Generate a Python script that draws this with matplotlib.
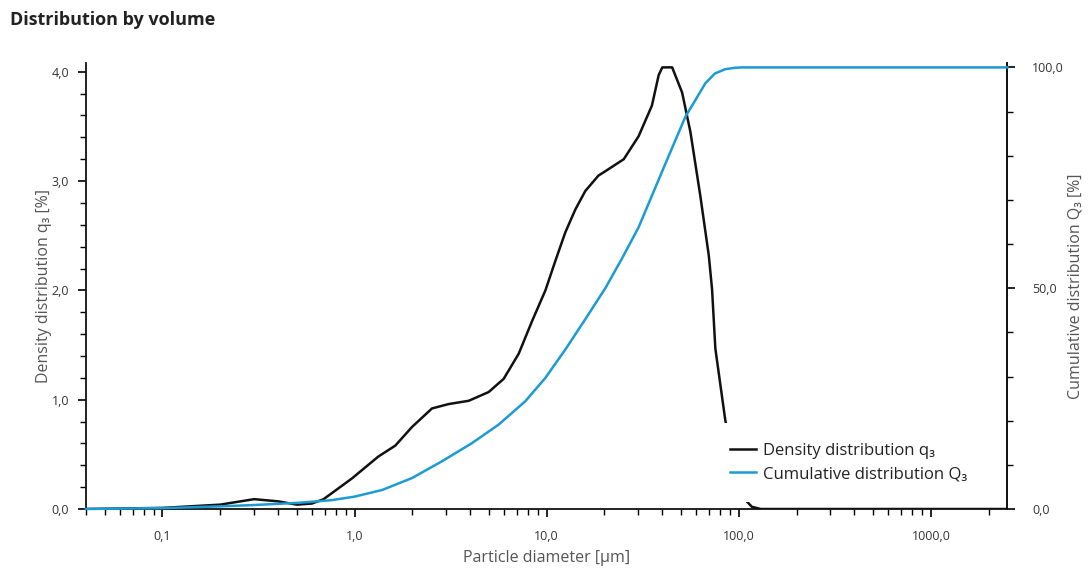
import matplotlib
matplotlib.use("Agg")
import matplotlib.pyplot as plt
from matplotlib.ticker import FixedLocator, MultipleLocator, LogLocator, NullFormatter

# particle size [um] and density distribution q3 [%]
d_q = [0.04, 0.1, 0.2, 0.3, 0.4, 0.5, 0.6, 0.69, 0.97, 1.33, 1.63, 1.99, 2.53, 3.09,
       3.93, 4.99, 5.97, 7.15, 8.4, 9.85, 11.1, 12.5, 14.1, 15.9, 18.6, 20.2, 25.2,
       30.1, 35.3, 38.3, 40, 45, 50.7, 56, 63, 69.8, 72.6, 75.5, 85.1, 95, 106, 117,
       130, 2500]
q3 = [0, 0.01, 0.04, 0.09, 0.07, 0.04, 0.05, 0.09, 0.28, 0.48, 0.58, 0.75, 0.92, 0.96,
      0.99, 1.07, 1.19, 1.42, 1.72, 2.0, 2.27, 2.53, 2.74, 2.91, 3.05, 3.09, 3.2,
      3.41, 3.69, 3.97, 4.04, 4.04, 3.81, 3.45, 2.87, 2.32, 2.01, 1.47, 0.81, 0.42,
      0.1, 0.02, 0.0, 0.0]

# cumulative distribution Q3 [%]
d_Q = [0.04, 0.1, 0.2, 0.3, 0.51, 0.76, 1.0, 1.39, 1.99, 2.85, 4.08, 5.62, 7.74, 9.85,
       12.5, 15.9, 20.2, 24.5, 30.1, 41.5, 52.7, 67, 75, 85, 95, 104, 2500]
Q3 = [0, 0.2, 0.6, 0.9, 1.4, 2.0, 2.8, 4.3, 7.0, 10.8, 14.9, 19.1, 24.4, 29.7,
      36.1, 43, 50.0, 56.5, 63.8, 78.2, 88.8, 96.4, 98.6, 99.6, 99.9, 100, 100]

x_ticks = [0.1, 1, 10, 100, 1000]
x_labels = ["0,1", "1,0", "10,0", "100,0", "1000,0"]
q_ticks = [0, 1, 2, 3, 4]
Q_ticks = [0, 50, 100]

plt.rcParams["font.family"] = ["Open Sans", "DejaVu Sans"]
TICK_C = "#333333"
LAB_C = "#555555"
BLUE = "#1b9bd5"

fig = plt.figure(figsize=(10.91, 5.71), dpi=100)
ax = fig.add_axes([86 / 1091, 1 - 509 / 571, 921 / 1091, 446 / 571])
ax2 = ax.twinx()

ax.plot(d_q, q3, color="#111111", lw=1.8, label="Density distribution q\u2083", zorder=3)
ax2.plot(d_Q, Q3, color=BLUE, lw=1.8, label="Cumulative distribution Q\u2083",
         clip_on=False, zorder=3)

ax.set_xscale("log")
ax.set_xlim(0.04, 2490)
ax.set_ylim(0, 4.08)
ax2.set_ylim(0, 101)

ax.xaxis.set_major_locator(FixedLocator(x_ticks))
ax.set_xticklabels(x_labels)
ax.xaxis.set_minor_locator(LogLocator(base=10, subs=range(2, 10)))
ax.xaxis.set_minor_formatter(NullFormatter())
ax.set_yticks(q_ticks)
ax.set_yticklabels([f"{v:.1f}".replace(".", ",") for v in q_ticks])
ax.yaxis.set_minor_locator(MultipleLocator(0.2))
ax2.set_yticks(Q_ticks)
ax2.set_yticklabels([f"{v:.1f}".replace(".", ",") for v in Q_ticks])
ax2.yaxis.set_minor_locator(MultipleLocator(10))

for a in (ax, ax2):
    a.spines["top"].set_visible(False)
    for s in a.spines.values():
        s.set_linewidth(1.3)
        s.set_color("#111111")
    a.tick_params(which="major", length=6, width=1.2, labelsize=9, labelcolor=TICK_C)
    a.tick_params(which="minor", length=4, width=1.0)
ax.tick_params(axis="x", which="major", pad=9)
ax.tick_params(axis="y", which="major", pad=6)
ax2.tick_params(axis="y", which="major", pad=12)
ax2.spines["left"].set_visible(False)
ax2.spines["bottom"].set_visible(False)

ax.set_xlabel("Particle diameter [\u00b5m]", fontsize=11.5, color=LAB_C, labelpad=5)
ax.set_ylabel("Density distribution q\u2083 [%]", fontsize=11.5, color=LAB_C, labelpad=0)
ax2.set_ylabel("Cumulative distribution Q\u2083 [%]", fontsize=11.5, color=LAB_C, labelpad=3)

fig.text(10 / 1091, 1 - 20 / 571, "Distribution by volume", fontsize=13,
         fontweight="bold", color="#222222", va="center", ha="left")

h1, l1 = ax.get_legend_handles_labels()
h2, l2 = ax2.get_legend_handles_labels()
leg = ax2.legend(h1 + h2, l1 + l2, loc="upper left", bbox_to_anchor=(0.668, 0.212),
                 frameon=True, fontsize=12, handlelength=1.6, handletextpad=0.4,
                 labelspacing=0.45, borderpad=1.2)
leg.get_frame().set_facecolor("white")
leg.get_frame().set_edgecolor("none")
leg.get_frame().set_alpha(1)
for t in leg.get_texts():
    t.set_color("#222222")

fig.savefig("out.png", dpi=100)
